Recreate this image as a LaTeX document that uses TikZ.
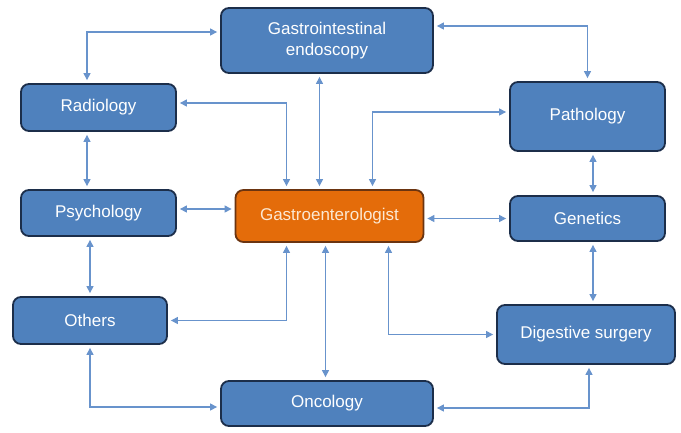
\documentclass[tikz,border=0pt]{standalone}
\usepackage{fontspec}
\setmainfont{Liberation Sans}
\usepackage{tikz}
\usetikzlibrary{arrows.meta,positioning,calc}
\definecolor{boxblue}{HTML}{4F81BD}
\definecolor{boxedge}{HTML}{1C2E4A}
\definecolor{boxorange}{HTML}{E46C0A}
\definecolor{orangeedge}{HTML}{6B3410}
\definecolor{hubtext}{HTML}{FCE8D2}
\definecolor{linkblue}{HTML}{6893CC}

\begin{document}
\begin{tikzpicture}[x=1pt,y=-1pt,
    box/.style={draw=boxedge,line width=1.8pt,fill=boxblue,rounded corners=8pt,
      text=white,align=center,font=\fontsize{17}{21}\selectfont,inner sep=0pt},
    hub/.style={box,draw=orangeedge,fill=boxorange,text=hubtext},
    link/.style={{Triangle[length=7pt,width=7pt]}-{Triangle[length=7pt,width=7pt]},
      draw=linkblue,line width=1.1pt,shorten >=3pt,shorten <=3pt}]
  \path[fill=white] (0,0) rectangle (681,432);
  \useasboundingbox (0,0) rectangle (681,432);
  \node[box,minimum width=212pt,minimum height=65pt] (endo) at (327,40.5) {Gastrointestinal\\endoscopy};
  \node[box,minimum width=155pt,minimum height=47pt] (radio) at (98.5,107.5) {Radiology};
  \node[box,minimum width=155pt,minimum height=69pt] (patho) at (587.5,116.5) {Pathology};
  \node[box,minimum width=155pt,minimum height=46pt] (psych) at (98.5,213) {Psychology};
  \node[hub,minimum width=188pt,minimum height=52pt] (gastro) at (329.5,216) {Gastroenterologist};
  \node[box,minimum width=155pt,minimum height=45pt] (genet) at (587.5,218.5) {Genetics};
  \node[box,minimum width=154pt,minimum height=47pt] (others) at (90,320.5) {Others};
  \node[box,minimum width=178pt,minimum height=59pt] (digest) at (586,334.5) {Digestive surgery};
  \node[box,minimum width=212pt,minimum height=45pt] (onco) at (327,403.5) {Oncology};
  % top row
  \draw[link] ([xshift=-11.5pt]radio.north) |- ([yshift=8.5pt]endo.west);
  \draw[link] ([yshift=14.5pt]endo.east) -| (patho.north);
  \draw[link] ([yshift=4.5pt]radio.east) -| ([xshift=-43pt]gastro.north);
  \draw[link] ([xshift=-10pt]gastro.north) -- ([xshift=-10pt]gastro.north |- endo.south);
  \draw[link] ([xshift=43pt]gastro.north) |- ([yshift=4.5pt]patho.west);
  % middle row
  \draw[link] ([xshift=-11.5pt]radio.south) -- ([xshift=-11.5pt]psych.north);
  \draw[link] ([yshift=4pt]psych.east) -- ([yshift=4pt]psych.east -| gastro.west);
  \draw[link] (genet.west -| gastro.east) -- (genet.west);
  \draw[link] ([xshift=5.5pt]patho.south) -- ([xshift=5.5pt]genet.north);
  % bottom row
  \draw[link] (psych.south -| others.north) -- (others.north);
  \draw[link] ([xshift=-43pt]gastro.south) |- (others.east);
  \draw[link] ([xshift=-4pt]gastro.south) -- ([xshift=-4pt]gastro.south |- onco.north);
  \draw[link] ([xshift=59pt]gastro.south) |- (digest.west);
  \draw[link] ([xshift=5.5pt]genet.south) -- ([xshift=5.5pt]genet.south |- digest.north);
  \draw[link] (others.south) |- ([yshift=-3.5pt]onco.west);
  \draw[link] ([yshift=-4.5pt]onco.east) -| ([xshift=3pt]digest.south);
\end{tikzpicture}
\end{document}
